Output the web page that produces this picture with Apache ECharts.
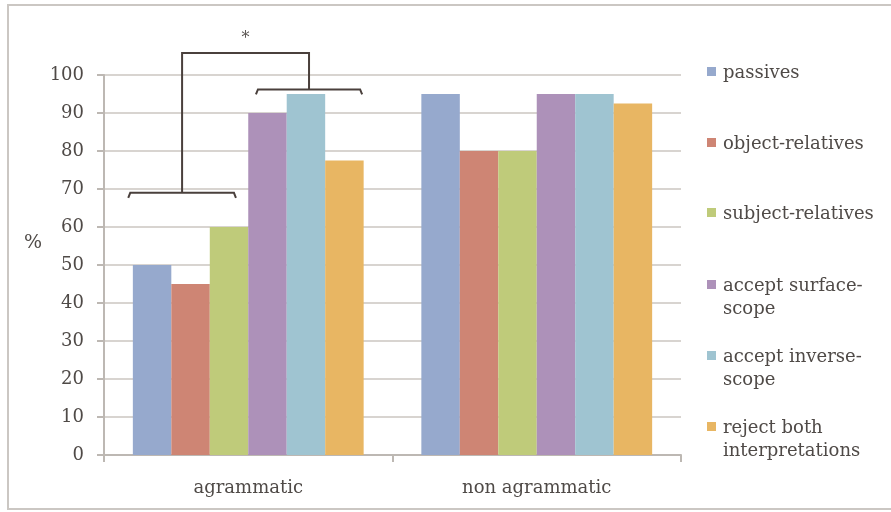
<!DOCTYPE html>
<html>
<head>
<meta charset="utf-8">
<script src="https://cdn.jsdelivr.net/npm/echarts@6/dist/echarts.min.js"></script>
<style>
html,body{margin:0;padding:0;background:#fff;}
#c{width:891px;height:512px;}
</style>
</head>
<body>
<div id="c"></div>
<script>
var categories = ['agrammatic', 'non agrammatic'];
var seriesNames = ['passives', 'object-relatives', 'subject-relatives', 'accept surface-\nscope', 'accept inverse-\nscope', 'reject both\ninterpretations'];
var seriesColors = ['#96A9CD', '#CE8574', '#BFCB7A', '#AD91B9', '#9FC4D1', '#E8B663'];
var passives = [50, 95];
var objectRelatives = [45, 80];
var subjectRelatives = [60, 80];
var acceptSurface = [90, 95];
var acceptInverse = [95, 95];
var rejectBoth = [77.5, 92.5];
var yTicks = [0, 10, 20, 30, 40, 50, 60, 70, 80, 90, 100];
var yAxisTitle = '%';
// significance bracket levels (in % units)
var bracketLow = 69;
var bracketHigh = 96.2;
var bracketTop = 105.8;

var allValues = [passives, objectRelatives, subjectRelatives, acceptSurface, acceptInverse, rejectBoth];
var FONT = 'DejaVu Serif';
var TXT = '#4f4a47';

var chart = echarts.init(document.getElementById('c'));
var series = allValues.map(function (vals, i) {
  return {
    name: seriesNames[i],
    type: 'bar',
    data: vals,
    barGap: '0%',
    barCategoryGap: '20%',
    itemStyle: { color: seriesColors[i] },
    emphasis: { disabled: true }
  };
});

chart.setOption({
  animation: false,
  grid: { left: 104, right: 210, top: 75, bottom: 57, containLabel: false },
  xAxis: {
    type: 'category',
    data: categories,
    axisLine: { lineStyle: { color: '#bdb8b3', width: 2 } },
    axisTick: { show: true, length: 7, lineStyle: { color: '#bdb8b3', width: 2 } },
    axisLabel: { color: TXT, fontFamily: FONT, fontSize: 18, margin: 24 }
  },
  yAxis: {
    type: 'value',
    min: yTicks[0],
    max: yTicks[yTicks.length - 1],
    interval: 10,
    axisLine: { show: true, lineStyle: { color: '#bdb8b3', width: 2 } },
    axisTick: { show: true, length: 7, lineStyle: { color: '#bdb8b3', width: 2 } },
    splitLine: { lineStyle: { color: '#d8d4d0', width: 2 } },
    axisLabel: { color: TXT, fontFamily: FONT, fontSize: 18, margin: 20 }
  },
  series: series
});

var g = [];
g.push({ type: 'rect', shape: { x: 8, y: 5, width: 920, height: 504 }, style: { fill: 'none', stroke: '#cbc7c3', lineWidth: 2 }, silent: true });
g.push({ type: 'text', x: 33, y: 243, style: { text: yAxisTitle, fill: TXT, font: '19px "' + FONT + '"', align: 'center', verticalAlign: 'middle' }, silent: true });

var legendTops = [72, 143, 213, 285, 356, 427];
seriesNames.forEach(function (n, i) {
  g.push({ type: 'rect', shape: { x: 707, y: legendTops[i] - 5, width: 9, height: 9 }, style: { fill: seriesColors[i] }, silent: true });
  g.push({ type: 'text', x: 723, y: legendTops[i] - 10, style: { text: n, fill: TXT, font: '18px "' + FONT + '"', lineHeight: 23, verticalAlign: 'top' }, silent: true });
});

var c0 = chart.convertToPixel({ xAxisIndex: 0 }, categories[0]);
var c1 = chart.convertToPixel({ xAxisIndex: 0 }, categories[1]);
var band = c1 - c0;
var barW = band * 0.8 / 6;
function barX(k) { return c0 - band * 0.4 + barW * (k + 0.5); }
function py(v) { return chart.convertToPixel({ yAxisIndex: 0 }, v); }
var yl = py(bracketLow), yh = py(bracketHigh), yt = py(bracketTop);
var l0 = barX(0) - barW * 0.62, l1 = barX(2) + barW * 0.18, lm = (l0 + l1) / 2;
var h0 = barX(3) - barW * 0.3, h1 = barX(5) + barW * 0.46, hm = (h0 + h1) / 2;
var ls = { stroke: '#4a403c', lineWidth: 2, fill: 'none' };
g.push({ type: 'polyline', shape: { points: [[l0, yl + 5], [l0 + 2, yl], [l1 - 2, yl], [l1, yl + 5]] }, style: ls, silent: true });
g.push({ type: 'polyline', shape: { points: [[h0, yh + 5], [h0 + 2, yh], [h1 - 2, yh], [h1, yh + 5]] }, style: ls, silent: true });
g.push({ type: 'polyline', shape: { points: [[lm, yl], [lm, yt], [hm, yt], [hm, yh]] }, style: ls, silent: true });
g.push({ type: 'text', x: (lm + hm) / 2, y: yt - 14, style: { text: '*', fill: '#5a5552', font: '16px "' + FONT + '"', align: 'center', verticalAlign: 'middle' }, silent: true });

chart.setOption({ graphic: g });
</script>
</body>
</html>
